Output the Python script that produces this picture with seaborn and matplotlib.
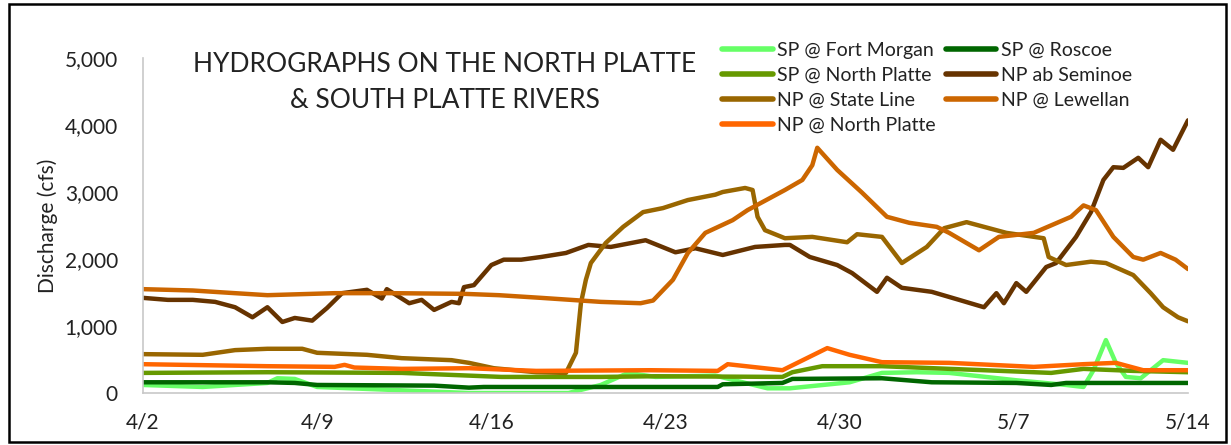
import matplotlib
matplotlib.use("Agg")
import matplotlib.pyplot as plt
import matplotlib.dates as mdates
import matplotlib.ticker as mticker
from matplotlib.patches import Rectangle
import numpy as np
import pandas as pd
import seaborn as sns


START = pd.Timestamp("2015-04-02")

# days after 4/2 and discharge (cfs)
fort_morgan_days = [0, 2.4, 5.0, 5.4, 6.1, 7.0, 10.4, 13.1, 17.1, 18.4, 19.5, 20.6, 23.0, 25.1, 26.0,
                    28.4, 29.7, 31.1, 32.4, 35.1, 37.1, 37.8, 38.2, 38.7, 39.1, 39.5, 40.1, 41.0, 42]
fort_morgan_cfs = [120, 90, 150, 220, 210, 90, 40, 0, 0, 120, 300, 240, 260, 70, 70,
                   160, 300, 310, 300, 190, 120, 90, 340, 790, 450, 240, 220, 490, 450]

roscoe_days = [0, 5.0, 6.1, 7.0, 11.7, 13.1, 13.7, 20.6, 23.1, 23.3, 25.7, 26.1, 29.7, 31.7,
               35.1, 36.5, 37.1, 42]
roscoe_cfs = [160, 160, 150, 120, 110, 80, 90, 90, 90, 130, 150, 210, 220, 160,
              150, 120, 150, 150]

sp_north_platte_days = [0, 5.0, 10.4, 14.4, 18.4, 20.6, 25.7, 26.1, 27.3, 29.7, 33.8, 36.5,
                        37.8, 39.8, 42]
sp_north_platte_cfs = [300, 310, 300, 240, 240, 250, 240, 310, 400, 400, 340, 300,
                       360, 330, 310]

seminoe_days = [0, 1.0, 2.0, 2.9, 3.7, 4.4, 5.0, 5.6, 6.1, 6.8, 7.4, 8.0, 9.0, 9.6, 9.8, 10.7,
                11.2, 11.7, 12.4, 12.7, 12.9, 13.3, 14.0, 14.5, 15.2, 16.0, 17.0, 17.9, 18.8,
                20.2, 21.4, 22.2, 23.3, 24.6, 25.8, 26.0, 26.8, 27.9, 28.5, 29.5, 29.9, 30.5,
                31.7, 32.8, 33.8, 34.3, 34.6, 35.1, 35.5, 36.3, 36.7, 37.5, 38.1, 38.6, 39.0,
                39.4, 40.0, 40.4, 40.9, 41.4, 42]
seminoe_cfs = [1420, 1390, 1390, 1360, 1280, 1130, 1280, 1060, 1120, 1080, 1270, 1490, 1540,
               1410, 1550, 1340, 1390, 1240, 1360, 1340, 1580, 1610, 1910, 1990, 1990, 2030,
               2090, 2210, 2180, 2280, 2100, 2160, 2060, 2180, 2210, 2210, 2030, 1910, 1790,
               1510, 1720, 1570, 1510, 1390, 1280, 1490, 1340, 1640, 1510, 1880, 1940, 2330,
               2700, 3180, 3370, 3360, 3510, 3370, 3780, 3630, 4070]

state_line_days = [0, 2.4, 3.7, 5.0, 6.4, 7.0, 9.0, 10.4, 12.4, 13.1, 14.1, 15.8, 17.0, 17.4,
                   17.6, 17.8, 18.0, 18.6, 19.3, 20.1, 20.9, 21.9, 23.0, 23.3, 24.2, 24.5, 24.7,
                   25.0, 25.8, 26.9, 28.3, 28.7, 29.7, 30.5, 31.5, 32.2, 33.1, 34.7, 36.2, 36.4,
                   37.1, 38.1, 38.7, 39.8, 40.5, 41.0, 41.6, 42]
state_line_cfs = [580, 570, 640, 660, 660, 600, 570, 520, 490, 450, 370, 310, 300, 600,
                  1340, 1690, 1940, 2240, 2480, 2700, 2760, 2880, 2960, 3000, 3060, 3030, 2630,
                  2430, 2310, 2330, 2250, 2370, 2330, 1940, 2180, 2460, 2550, 2390, 2310, 2030,
                  1910, 1960, 1940, 1760, 1490, 1280, 1130, 1070]

lewellan_days = [0, 2, 3.7, 5, 7.7, 10, 12.9, 14.3, 16, 18.4, 20, 20.5, 21.3, 21.9, 22.6, 23.7,
                 24.3, 25.8, 26.5, 26.9, 27.1, 27.9, 28.9, 29.9, 30.8, 31.9, 32.4, 33.6, 34.4,
                 35.8, 37.3, 37.8, 38.3, 39.0, 39.8, 40.2, 40.9, 41.5, 42]
lewellan_cfs = [1550, 1530, 1490, 1460, 1490, 1490, 1480, 1460, 1420, 1360, 1340, 1380, 1690,
                2090, 2390, 2580, 2730, 3030, 3180, 3400, 3660, 3330, 2990, 2630, 2540, 2480,
                2390, 2130, 2330, 2390, 2630, 2800, 2730, 2330, 2030, 1990, 2090, 1990, 1850]

np_north_platte_days = [0, 5.0, 7.7, 8.1, 8.5, 10.4, 13.1, 15.8, 20.4, 23.1, 23.5, 25.7, 27.5,
                        28.4, 29.7, 32.4, 35.8, 37.8, 39.1, 40.2, 42]
np_north_platte_cfs = [430, 400, 390, 420, 380, 360, 370, 330, 340, 330, 430, 340, 670,
                       570, 460, 450, 390, 430, 450, 340, 340]

stations = ["SP @ Fort Morgan", "SP @ Roscoe", "SP @ North Platte", "NP ab Seminoe",
            "NP @ State Line", "NP @ Lewellan", "NP @ North Platte"]
station_colors = ["#66ff66", "#006600", "#669900", "#663300", "#996600", "#cc6600", "#ff6600"]

tick_days = [0, 7, 14, 21, 28, 35, 42]
tick_labels = ["4/2", "4/9", "4/16", "4/23", "4/30", "5/7", "5/14"]

series = [
    (fort_morgan_days, fort_morgan_cfs),
    (roscoe_days, roscoe_cfs),
    (sp_north_platte_days, sp_north_platte_cfs),
    (seminoe_days, seminoe_cfs),
    (state_line_days, state_line_cfs),
    (lewellan_days, lewellan_cfs),
    (np_north_platte_days, np_north_platte_cfs),
]

frames = []
for name, (days, cfs) in zip(stations, series):
    frames.append(pd.DataFrame({
        "date": START + pd.to_timedelta(days, unit="D"),
        "cfs": cfs,
        "station": name,
    }))
df = pd.concat(frames, ignore_index=True)

sns.set_style("white")
plt.rcParams["font.family"] = ["Lato", "DejaVu Sans"]

fig = plt.figure(figsize=(12.31, 4.45), dpi=100)
ax = fig.add_axes([143 / 1231, 52 / 445, 1045 / 1231, 335 / 445])

sns.lineplot(
    data=df, x="date", y="cfs", hue="station", hue_order=stations,
    palette=dict(zip(stations, station_colors)), estimator=None, sort=True,
    linewidth=3.2, ax=ax,
)

ax.set_xlim(START, START + pd.Timedelta(days=42))
ax.set_ylim(0, 5000)
ax.set_xticks([START + pd.Timedelta(days=d) for d in tick_days])
ax.set_xticklabels(tick_labels)
ax.xaxis.set_minor_locator(mdates.DayLocator())
ax.yaxis.set_major_locator(mticker.MultipleLocator(1000))
ax.yaxis.set_minor_locator(mticker.MultipleLocator(200))
ax.yaxis.set_major_formatter(mticker.StrMethodFormatter("{x:,.0f}"))

for side in ["top", "right"]:
    ax.spines[side].set_visible(False)
for side in ["left", "bottom"]:
    ax.spines[side].set_color("#c8c8c8")
    ax.spines[side].set_linewidth(1.2)

ax.tick_params(axis="both", which="both", direction="in", color="#c8c8c8", width=1)
ax.tick_params(axis="both", which="major", length=5, labelsize=15, labelcolor="#222222")
ax.tick_params(axis="both", which="minor", length=4)
ax.tick_params(axis="x", which="major", pad=14)
ax.tick_params(axis="y", which="major", pad=18)

ax.set_xlabel("")
ax.set_ylabel("Discharge (cfs)", fontsize=15, color="#222222", labelpad=5)

fig.text(445 / 1231, 1 - 64 / 445, "HYDROGRAPHS ON THE NORTH PLATTE",
         ha="center", va="center", fontsize=19, color="#222222")
fig.text(445 / 1231, 1 - 101 / 445, "& SOUTH PLATTE RIVERS",
         ha="center", va="center", fontsize=19, color="#222222")

handles, labels = ax.get_legend_handles_labels()
ax.get_legend().remove()
order = [0, 2, 4, 6, 1, 3, 5]
leg = fig.legend(
    [handles[i] for i in order], [labels[i] for i in order],
    ncol=2, loc="upper left", bbox_to_anchor=(722 / 1231, 1 - 42 / 445),
    frameon=False, fontsize=14, handlelength=2.6, handletextpad=0.25,
    columnspacing=0.5, labelspacing=0.4, borderpad=0, borderaxespad=0,
)
for line in leg.get_lines():
    line.set_linewidth(4)
for text in leg.get_texts():
    text.set_color("#222222")

fig.patches.append(Rectangle((9 / 1231, 3 / 445), 1217 / 1231, 438 / 445,
                             transform=fig.transFigure, fill=False,
                             edgecolor="black", linewidth=1.8))

fig.savefig("out.png", dpi=100)
